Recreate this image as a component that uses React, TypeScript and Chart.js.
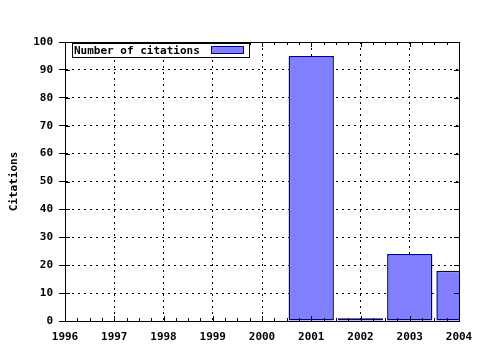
import React, { useEffect, useRef } from "react";
import { Chart, registerables } from "chart.js";

Chart.register(...registerables);

const years = [2001, 2002, 2003, 2004];
const citations = [95, 1, 24, 18];
const seriesLabel = "Number of citations";
const axisTitle = "Citations";
const xMin = 1996;
const xMax = 2004;
const yMin = 0;
const yMax = 100;
const yStep = 10;

const FONT = "'DejaVu Sans Mono', 'Liberation Mono', monospace";

const framePlugin = {
  id: "frame",
  afterDraw(chart: any) {
    const { ctx, chartArea } = chart;
    const { left, right, top, bottom } = chartArea;
    const xs = chart.scales.x;
    const ys = chart.scales.y;
    ctx.save();
    ctx.strokeStyle = "#000";
    ctx.lineWidth = 1;
    ctx.strokeRect(Math.round(left) + 0.5, Math.round(top) + 0.5, Math.round(right - left), Math.round(bottom - top));
    ctx.beginPath();
    for (let v = xMin; v <= xMax + 1e-6; v += 0.25) {
      const px = Math.round(xs.getPixelForValue(v)) + 0.5;
      const major = Math.abs(v - Math.round(v)) < 1e-6;
      const len = major ? 5 : 3;
      ctx.moveTo(px, bottom);
      ctx.lineTo(px, bottom - len);
      ctx.moveTo(px, top);
      ctx.lineTo(px, top + len);
    }
    for (let v = yMin; v <= yMax; v += yStep) {
      const py = Math.round(ys.getPixelForValue(v)) + 0.5;
      ctx.moveTo(left, py);
      ctx.lineTo(left + 5, py);
      ctx.moveTo(right, py);
      ctx.lineTo(right - 5, py);
    }
    ctx.stroke();
    const ds = chart.data.datasets[0];
    ctx.font = `bold 11px ${FONT}`;
    ctx.textBaseline = "middle";
    const bx = 72, by = 43, bw = 177, bh = 14;
    ctx.fillStyle = "#fff";
    ctx.fillRect(bx, by, bw, bh);
    ctx.strokeStyle = "#000";
    ctx.strokeRect(bx + 0.5, by + 0.5, bw, bh);
    ctx.fillStyle = "#000";
    ctx.fillText(ds.label, bx + 2, by + bh / 2 + 1);
    ctx.fillStyle = ds.backgroundColor;
    ctx.fillRect(211, 46, 32, 7);
    ctx.strokeStyle = ds.borderColor;
    ctx.strokeRect(211.5, 46.5, 32, 7);
    ctx.restore();
  },
};

export default function App() {
  const ref = useRef<HTMLCanvasElement | null>(null);
  useEffect(() => {
    document.body.style.margin = "0";
    const canvas = ref.current!;
    const chart = new Chart(canvas, {
      type: "bar",
      data: {
        datasets: [
          {
            label: seriesLabel,
            data: years.map((y, i) => ({ x: y, y: citations[i] })),
            backgroundColor: "#8080ff",
            borderColor: "#000090",
            borderWidth: 1.5,
            borderSkipped: false,
            barPercentage: 1,
            categoryPercentage: 0.92,
            clip: 0,
          } as any,
        ],
      },
      options: {
        animation: false,
        responsive: false,
        maintainAspectRatio: false,
        layout: { padding: { top: 42, right: 21, left: 0, bottom: 0 } },
        plugins: { legend: { display: false }, tooltip: { enabled: false } },
        scales: {
          x: {
            type: "linear",
            min: xMin,
            max: xMax,
            offset: false,
            afterFit: (s: any) => {
              s.height = 29;
              s.paddingLeft = 0;
              s.paddingRight = 0;
            },
            ticks: {
              stepSize: 1,
              padding: 10,
              color: "#000",
              maxRotation: 0,
              autoSkip: false,
              font: { family: FONT, size: 11, weight: "bold" },
              callback: (v: any) => String(v),
            },
            grid: {
              offset: false,
              color: "#000",
              lineWidth: 1,
              tickLength: 0,
              drawTicks: false,
            },
            border: { display: true, color: "#000", width: 1, dash: [2, 4] },
          },
          y: {
            min: yMin,
            max: yMax,
            afterFit: (s: any) => {
              s.width = 65;
              s.paddingTop = 0;
              s.paddingBottom = 0;
            },
            ticks: {
              stepSize: yStep,
              padding: 6,
              color: "#000",
              font: { family: FONT, size: 11, weight: "bold" },
            },
            grid: {
              color: "#000",
              lineWidth: 1,
              tickLength: 6,
              tickColor: "#000",
              tickBorderDash: [],
            } as any,
            border: { display: true, color: "#000", width: 1, dash: [2, 4] },
            title: {
              display: true,
              text: axisTitle,
              color: "#000",
              font: { family: FONT, size: 11, weight: "bold" },
              padding: { top: 8, bottom: 0 },
            },
          },
        },
      },
      plugins: [framePlugin],
    });
    return () => chart.destroy();
  }, []);
  return <canvas ref={ref} width={480} height={350} style={{ display: "block" }} />;
}
